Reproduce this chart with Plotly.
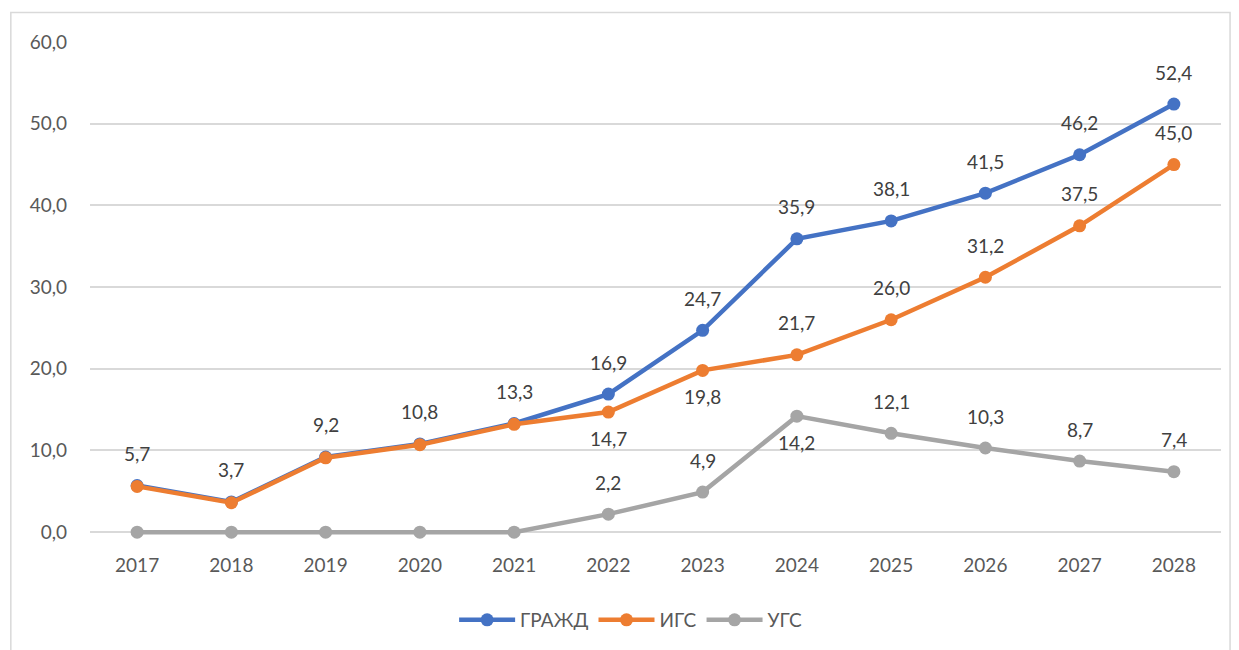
import plotly.graph_objects as go

years = ["2017", "2018", "2019", "2020", "2021", "2022", "2023", "2024", "2025", "2026", "2027", "2028"]
grazhd = [5.7, 3.7, 9.2, 10.8, 13.3, 16.9, 24.7, 35.9, 38.1, 41.5, 46.2, 52.4]
igs = [5.6, 3.6, 9.1, 10.7, 13.2, 14.7, 19.8, 21.7, 26.0, 31.2, 37.5, 45.0]
ugs = [0.0, 0.0, 0.0, 0.0, 0.0, 2.2, 4.9, 14.2, 12.1, 10.3, 8.7, 7.4]
y_ticks = [0, 10, 20, 30, 40, 50, 60]

# label placement: 1 = above, -1 = below, 0 = hidden
grazhd_lbl = [1, 1, 1, 1, 1, 1, 1, 1, 1, 1, 1, 1]
igs_lbl = [0, 0, 0, 0, 0, -1, -1, 1, 1, 1, 1, 1]
ugs_lbl = [0, 0, 0, 0, 0, 1, 1, -1, 1, 1, 1, 1]

series = [
    ("ГРАЖД", grazhd, "#4472C4", grazhd_lbl),
    ("ИГС", igs, "#ED7D31", igs_lbl),
    ("УГС", ugs, "#A5A5A5", ugs_lbl),
]

FONT = "Lato, 'Liberation Sans', sans-serif"
FS = 19

fig = go.Figure()
annotations = []
for name, vals, color, lbl in series:
    fig.add_trace(go.Scatter(
        x=years, y=vals, name=name, mode="lines+markers",
        line=dict(color=color, width=4.5),
        marker=dict(color=color, size=13),
        cliponaxis=False,
        hoverinfo="skip",
    ))
    for i, (yv, p) in enumerate(zip(vals, lbl)):
        if p == 0:
            continue
        annotations.append(dict(
            x=i, y=yv, xref="x", yref="y",
            text=f"{yv:.1f}".replace(".", ","),
            showarrow=False, yshift=32 if p > 0 else -26,
            font=dict(family=FONT, size=FS, color="#404040"),
        ))

fig.update_layout(
    width=1239, height=650,
    margin=dict(l=90, r=18, t=42, b=114),
    paper_bgcolor="white", plot_bgcolor="white",
    separators=", ",
    font=dict(family=FONT, size=FS, color="#595959"),
    annotations=annotations,
    showlegend=True,
    legend=dict(orientation="h", x=0.478, xanchor="center", y=-0.17, yanchor="middle",
                font=dict(family=FONT, size=FS, color="#595959"), itemwidth=56),
    shapes=[dict(type="rect", xref="paper", yref="paper",
                 x0=-0.07, x1=1.008, y0=-0.24, y1=1.06,
                 line=dict(color="#D9D9D9", width=1.5), fillcolor="rgba(0,0,0,0)", layer="below")],
)
fig.update_xaxes(type="category", range=[-0.5, 11.5], showgrid=False, showline=False,
                 ticks="", ticklabelstandoff=17, tickfont=dict(size=FS, color="#595959"), fixedrange=True)
fig.update_yaxes(range=[-0.35, 60], tickvals=y_ticks, tickformat=".1f",
                 showgrid=True, gridcolor="#D9D9D9", gridwidth=1.5, zeroline=False,
                 showline=False, ticks="", ticklabelstandoff=22,
                 tickfont=dict(size=FS, color="#595959"), fixedrange=True)

fig.write_html("out.html", config={"displayModeBar": False},
               post_script="document.body.style.margin='0';")
